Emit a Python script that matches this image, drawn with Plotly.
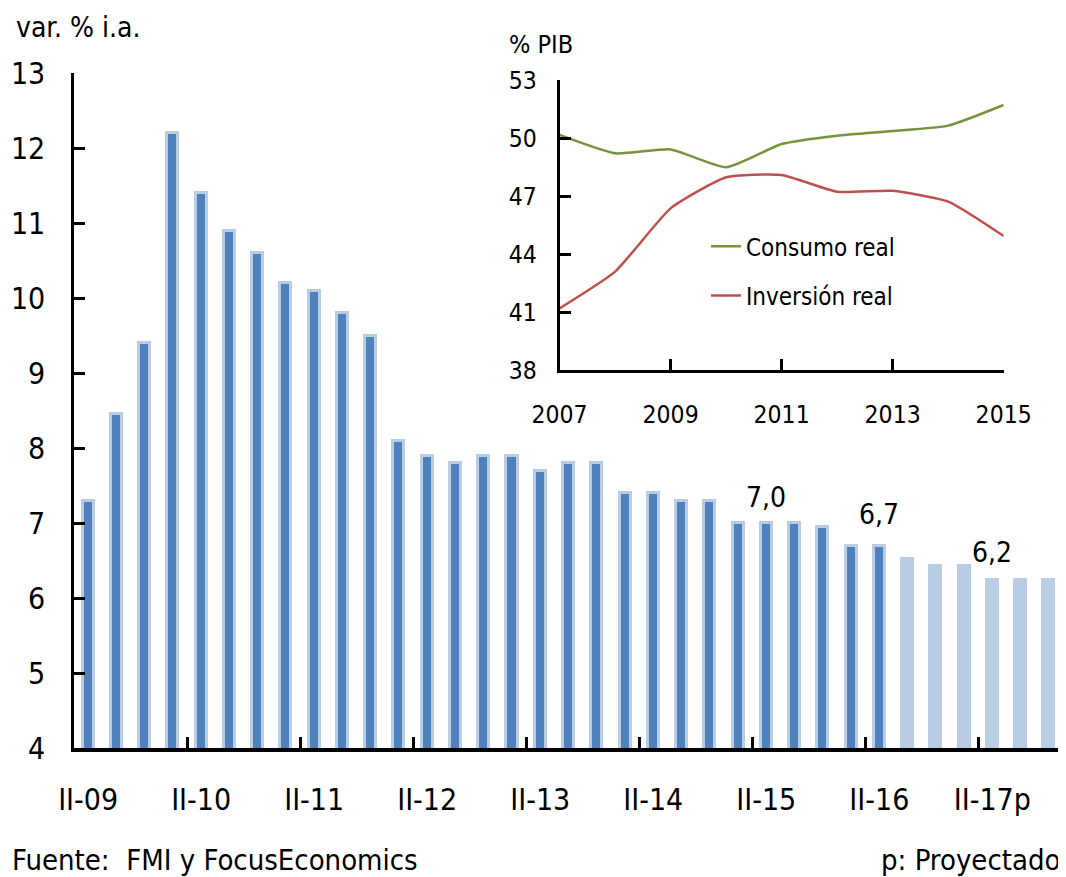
import plotly.graph_objects as go

# GDP growth, % y/y, quarterly II-09 .. IV-17 (last six are projections)
quarters = [f"{q}-{y:02d}" for y in range(9, 18) for q in ("I", "II", "III", "IV")][1:]
growth = [7.3, 8.45, 9.4, 12.2, 11.4, 10.9, 10.6, 10.2, 10.1, 9.8, 9.5, 8.1,
          7.9, 7.8, 7.9, 7.9, 7.7, 7.8, 7.8, 7.4, 7.4, 7.3, 7.3, 7.0,
          7.0, 7.0, 6.95, 6.7, 6.7, 6.52, 6.43, 6.43, 6.24, 6.24, 6.24]
n_actual = 29

tick_idx = list(range(0, len(quarters), 4))
tick_text = ["II-09", "II-10", "II-11", "II-12", "II-13",
             "II-14", "II-15", "II-16", "II-17p"]

label_idx = [24, 28, 32]
label_text = ["7,0", "6,7", "6,2"]
label_shift = [26, 31, 28]

# inset: % of GDP
years = list(range(2007, 2016))
consumo = [50.16, 49.21, 49.41, 48.49, 49.69, 50.12, 50.36, 50.64, 51.71]
inversion = [41.19, 43.09, 46.36, 47.97, 48.09, 47.22, 47.27, 46.71, 44.93]
inset_yticks = [38, 41, 44, 47, 50, 53]

FONT = "DejaVu Sans Condensed, Liberation Sans Narrow, sans-serif"
DARK = "#4F81BD"
LIGHT = "#B9CDE5"

x_all = list(range(len(quarters)))
fig = go.Figure()

fig.add_trace(go.Bar(
    x=x_all[:n_actual], y=growth[:n_actual], width=0.39,
    marker=dict(color=DARK, line=dict(color=LIGHT, width=3)),
    showlegend=False, hoverinfo="skip"
))
fig.add_trace(go.Bar(
    x=x_all[n_actual:], y=growth[n_actual:], width=0.39,
    marker=dict(color=LIGHT, line=dict(color=LIGHT, width=3)),
    showlegend=False, hoverinfo="skip"
))

fig.add_trace(go.Scatter(
    x=years, y=consumo, name="Consumo real", mode="lines",
    line=dict(color="#77933C", width=2.5, shape="spline", smoothing=0.5),
    xaxis="x2", yaxis="y2", legendgroup="c"
))
fig.add_trace(go.Scatter(
    x=years, y=inversion, name="Inversión real", mode="lines",
    line=dict(color="#C0504D", width=2.5, shape="spline", smoothing=0.5),
    xaxis="x2", yaxis="y2", legendgroup="i"
))

for i, t, s in zip(label_idx, label_text, label_shift):
    fig.add_annotation(x=i, y=growth[i], text=t, showarrow=False,
                       yshift=s, yanchor="middle",
                       font=dict(size=28, family=FONT, color="black"))

boundaries = [i + 3.5 for i in tick_idx[:-1]]

# page body adds an 8px offset, so the figure is 8px smaller on each side
fig.update_layout(
    width=1058, height=869,
    margin=dict(l=66, r=3, t=65, b=129),
    plot_bgcolor="rgba(0,0,0,0)", paper_bgcolor="white",
    font=dict(family=FONT, color="black", size=30),
    bargap=0,
    xaxis=dict(
        range=[-0.5, len(quarters) - 0.5], automargin=False,
        tickvals=tick_idx, ticktext=tick_text, ticks="",
        ticklabelstandoff=22,
        minor=dict(tickvals=boundaries, ticks="inside", ticklen=11,
                   tickwidth=2.5, tickcolor="black"),
        showline=True, linecolor="black", linewidth=3.5,
        showgrid=False, zeroline=False,
        tickfont=dict(size=30)
    ),
    yaxis=dict(
        range=[4, 13], dtick=1, ticks="inside", ticklen=11, tickwidth=2.5,
        tickcolor="black", showline=True, linecolor="black", linewidth=2.5,
        showgrid=False, zeroline=False, ticklabelstandoff=20,
        automargin=False, tickfont=dict(size=30)
    ),
    xaxis2=dict(
        domain=[0.491, 0.940], anchor="y2", range=[2007, 2015],
        tickvals=years[::2], ticks="inside", ticklen=11, tickwidth=3,
        tickcolor="black", showline=True, linecolor="black", linewidth=3,
        showgrid=False, zeroline=False, ticklabelstandoff=21,
        automargin=False, tickfont=dict(size=24.5)
    ),
    yaxis2=dict(
        domain=[0.56, 0.9896], anchor="x2", range=[38, 53],
        tickvals=inset_yticks,
        ticks="inside", ticklen=11, tickwidth=3, tickcolor="black",
        showline=True, linecolor="black", linewidth=3,
        showgrid=False, zeroline=False, ticklabelstandoff=15,
        automargin=False, tickfont=dict(size=24.5)
    ),
    legend=dict(
        x=0.639, y=0.776, xanchor="left", yanchor="top",
        bgcolor="rgba(0,0,0,0)", font=dict(size=24),
        traceorder="grouped", tracegroupgap=15
    ),
)

fig.add_annotation(text="var. % i.a.", xref="paper", yref="paper",
                   x=-0.061, y=1.0667, xanchor="left", yanchor="middle",
                   showarrow=False, font=dict(size=28))
fig.add_annotation(text="% PIB", xref="paper", yref="paper",
                   x=0.438, y=1.0415, xanchor="left", yanchor="middle",
                   showarrow=False, font=dict(size=25))
fig.add_annotation(text="Fuente:  FMI y FocusEconomics", xref="paper", yref="paper",
                   x=-0.065, y=-0.166, xanchor="left", yanchor="middle",
                   showarrow=False, font=dict(size=29))
fig.add_annotation(text="p: Proyectado", xref="paper", yref="paper",
                   x=0.999, y=-0.166, xanchor="right", yanchor="middle",
                   showarrow=False, font=dict(size=29))

fig.write_html("out.html")
